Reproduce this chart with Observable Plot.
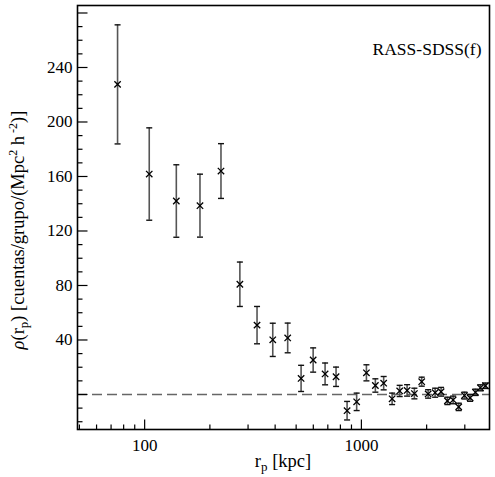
<!DOCTYPE html>
<html>
<head>
<meta charset="utf-8">
<script src="https://cdn.jsdelivr.net/npm/d3@7"></script>
<script src="https://cdn.jsdelivr.net/npm/@observablehq/plot@0.6"></script>
<style>
  body { margin: 0; background: #fff; }
  #chart svg { display: block; }
  #chart svg, #chart svg text { font-family: "Liberation Serif", "Times New Roman", Times, serif !important; }
</style>
</head>
<body>
<div id="chart"></div>
<script>
// Projected radius bins (kpc), mean galaxy count density per group and 1-sigma errors
const rp = [75, 105, 140, 180, 225, 275, 330, 390, 457, 527, 599, 680, 764, 859, 951,
            1055, 1160, 1267, 1386, 1502, 1625, 1756, 1898, 2032, 2189, 2332, 2494, 2650,
            2812, 2988, 3174, 3358, 3541, 3735];
const rho = [227.6, 161.8, 142.0, 138.6, 164.0, 80.9, 50.9, 40.1, 41.5, 11.8, 25.3, 15.1,
             13.0, -11.9, -5.4, 15.9, 6.6, 8.3, -3.2, 2.6, 3.0, 0.7, 9.4, 0.4, 1.3, 2.0,
             -4.7, -4.0, -9.1, -0.8, -2.5, 1.6, 4.9, 6.4];
const err = [43.7, 33.9, 26.6, 23.1, 20.1, 16.3, 13.7, 12.2, 10.9, 9.6, 8.9, 8.0, 7.1, 6.8,
             6.4, 5.9, 4.9, 4.9, 4.2, 4.1, 4.2, 3.9, 3.3, 3.1, 3.3, 3.2, 2.7, 2.8, 2.7,
             2.5, 2.5, 2.3, 2.2, 2.0];

// Axis ticks
const yTickLabels = [40, 80, 120, 160, 200, 240];
const yMajorTicks = [0, 40, 80, 120, 160, 200, 240, 280];
const yMinorTicks = [-20, -10, 10, 20, 30, 50, 60, 70, 90, 100, 110, 130, 140, 150, 170,
                     180, 190, 210, 220, 230, 250, 260, 270];
const xTickLabels = [100, 1000];
const xMajorTicks = [100, 1000];
const xMinorTicks = [50, 60, 70, 80, 90, 200, 300, 400, 500, 600, 700, 800, 900, 2000, 3000];

const panelLabel = "RASS-SDSS(f)";

const bins = rp.map((r, i) => ({rp: r, rho: rho[i], lo: rho[i] - err[i], hi: rho[i] + err[i]}));

// Fixed-length line glyphs used for inward ticks and error-bar caps
const hSeg = (x0, x1) => ({draw(ctx) { ctx.moveTo(x0, 0); ctx.lineTo(x1, 0); }});
const vSeg = (y0, y1) => ({draw(ctx) { ctx.moveTo(0, y0); ctx.lineTo(0, y1); }});

const font = '"Liberation Serif", "Times New Roman", Times, serif';

const chart = Plot.plot({
  width: 495,
  height: 477,
  marginLeft: 77,
  marginRight: 6,
  marginTop: 5,
  marginBottom: 48,
  style: {fontFamily: font, fontSize: "17px", background: "#fff", color: "#000"},
  x: {type: "log", domain: [49, 3900]},
  y: {domain: [-25.7, 285.5]},
  marks: [
    Plot.ruleY([0], {stroke: "#666", strokeWidth: 1.5, strokeDasharray: "10,5"}),
    Plot.ruleX(bins, {x: "rp", y1: "lo", y2: "hi", stroke: "#555", strokeWidth: 1.6}),
    Plot.dot(bins, {x: "rp", y: "hi", symbol: hSeg(-3, 3), stroke: "#111", fill: "none", strokeWidth: 1.4}),
    Plot.dot(bins, {x: "rp", y: "lo", symbol: hSeg(-3, 3), stroke: "#111", fill: "none", strokeWidth: 1.4}),
    Plot.dot(bins, {x: "rp", y: "rho", symbol: "times", r: 3, stroke: "#000", strokeWidth: 1.3}),
    // inward ticks on the left and bottom edges
    Plot.dot(yMajorTicks, {y: d => d, frameAnchor: "left", symbol: hSeg(0, 10), stroke: "#000", fill: "none", strokeWidth: 1.2}),
    Plot.dot(yMinorTicks, {y: d => d, frameAnchor: "left", symbol: hSeg(0, 5), stroke: "#000", fill: "none", strokeWidth: 1.2}),
    Plot.dot(xMajorTicks, {x: d => d, frameAnchor: "bottom", symbol: vSeg(0, -10), stroke: "#000", fill: "none", strokeWidth: 1.2}),
    Plot.dot(xMinorTicks, {x: d => d, frameAnchor: "bottom", symbol: vSeg(0, -5), stroke: "#000", fill: "none", strokeWidth: 1.2}),
    Plot.axisY({ticks: yTickLabels, tickSize: 0, tickPadding: 5, label: null, fontSize: 17}),
    Plot.axisX({ticks: xTickLabels, tickSize: 0, tickPadding: 9, label: null, fontSize: 17, tickFormat: d3.format("d")}),
    Plot.text([panelLabel], {frameAnchor: "top-right", dx: -8, dy: 37, textAnchor: "end", fontSize: 17.5}),
    Plot.frame({stroke: "#000", strokeWidth: 1.6})
  ]
});

document.getElementById("chart").appendChild(chart);

// Axis titles with sub- and superscripts
const svg = d3.select(chart);

const xTitle = svg.append("text")
  .attr("x", 283).attr("y", 467)
  .attr("text-anchor", "middle")
  .style("font-family", font).style("font-size", "18.5px").attr("fill", "#000");
xTitle.append("tspan").text("r");
xTitle.append("tspan").attr("dy", 4).style("font-size", "13px").text("p");
xTitle.append("tspan").attr("dy", -4).text(" [kpc]");

const yTitle = svg.append("text")
  .attr("transform", "translate(24,230) rotate(-90)")
  .attr("text-anchor", "middle")
  .style("font-family", font).style("font-size", "18.5px").attr("fill", "#000");
yTitle.append("tspan").style("font-style", "italic").text("\u03c1");
yTitle.append("tspan").text("(r");
yTitle.append("tspan").attr("dy", 4).style("font-size", "13px").text("p");
yTitle.append("tspan").attr("dy", -4).text(") [cuentas/grupo/(Mpc");
yTitle.append("tspan").attr("dy", -7).style("font-size", "12px").text("2");
yTitle.append("tspan").attr("dy", 7).text(" h");
yTitle.append("tspan").attr("dy", -7).style("font-size", "12px").text(" -2");
yTitle.append("tspan").attr("dy", 7).text(")]");
</script>
</body>
</html>
